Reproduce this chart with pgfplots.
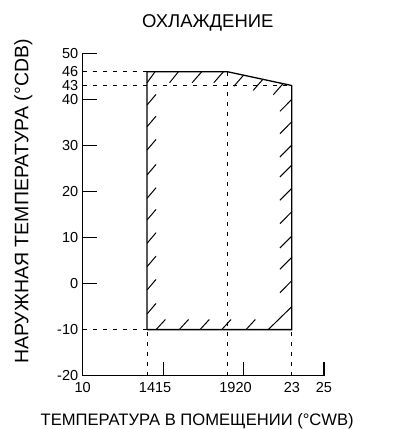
\documentclass[border=0pt]{standalone}
\usepackage{fontspec}
\setmainfont{Liberation Sans}
\usepackage{pgfplots}
\pgfplotsset{compat=1.18}
\begin{document}
\begin{tikzpicture}[font=\fontsize{14.5}{16}\selectfont]
\begin{axis}[
 at={(0,0)}, anchor=south west,
 scale only axis, width=241.3pt, height=322.4pt,
 xmin=10,xmax=25,ymin=-20,ymax=50,
 axis x line*=bottom, axis y line*=left,
 axis line style={line width=1.2pt},
 xtick={10,14,15,19,20,23,25},
 xticklabels={10,14,15,19,20,23,25},
 ytick={-20,-10,0,10,20,30,40,43,46,50},
 yticklabels={-20,-10,0,10,20,30,40,43,46,50},
 major tick length=0pt,
 tick align=inside,
 extra x ticks={15,20,25}, extra x tick labels={},
 extra y ticks={0,10,20,30,40,50}, extra y tick labels={},
 extra x tick style={major tick length=14pt, tick style={line width=1.2pt, black}},
 extra y tick style={major tick length=14pt, tick style={line width=1.2pt, black}},
 tick label style={font=\fontsize{14.5}{16}\selectfont},
 xticklabel style={yshift=-3pt},
 yticklabel style={xshift=-1pt},
 clip=false,
]
\addplot[black, line width=1pt, dash pattern=on 4pt off 6pt, unbounded coords=jump] coordinates {
 (10,46)(14,46) (nan,nan) (10,43)(23,43) (nan,nan) (10,-10)(14,-10) (nan,nan)
 (14,-20)(14,-10) (nan,nan) (19,-20)(19,46) (nan,nan) (23,-20)(23,-10)};
\addplot[black, line width=1pt, unbounded coords=jump] coordinates {
 (14.0,43.6)(14.5,46) (nan,nan) (15.4,43.6)(15.95,46) (nan,nan) (16.8,43.6)(17.4,46) (nan,nan) (18.15,43.6)(18.75,46) (nan,nan)
 (19.4,42.85)(20.0,45.25) (nan,nan) (20.6,41.95)(21.2,44.35) (nan,nan) (21.85,41.0)(22.45,43.4) (nan,nan)
 (22.26,37.4)(23,40.0) (nan,nan) (22.26,32.55)(23,35.15) (nan,nan) (22.26,27.49)(23,30.09) (nan,nan)
 (22.26,23.15)(23,25.75) (nan,nan) (22.26,18.09)(23,20.69) (nan,nan) (22.26,13.01)(23,15.61) (nan,nan)
 (22.26,7.73)(23,10.33) (nan,nan) (22.26,3.11)(23,5.71) (nan,nan) (22.26,-1.97)(23,0.63) (nan,nan)
 (21.53,-10)(23,-5.0) (nan,nan)
 (14,38.78)(14.56,41.08) (nan,nan) (14,34.06)(14.56,36.36) (nan,nan) (14,29.0)(14.56,31.3) (nan,nan)
 (14,23.58)(14.56,25.88) (nan,nan) (14,18.52)(14.56,20.82) (nan,nan) (14,13.81)(14.56,16.11) (nan,nan)
 (14,8.75)(14.56,11.05) (nan,nan) (14,3.67)(14.56,5.97) (nan,nan) (14,-1.39)(14.56,0.91) (nan,nan)
 (14,-6.6)(14.56,-4.3) (nan,nan)
 (14.56,-10)(15.14,-7.8) (nan,nan) (16.0,-10)(16.58,-7.8) (nan,nan) (17.29,-10)(17.87,-7.8) (nan,nan)
 (18.64,-10)(19.22,-7.8) (nan,nan) (20.15,-10)(20.73,-7.8)};
\addplot[black, line width=1.3pt] coordinates {(14,-10)(14,46)(19,46)(23,43)(23,-10)(14,-10)};
\end{axis}
\node[anchor=base, font=\fontsize{18.5}{20}\selectfont] at (125.2pt,347.7pt) {ОХЛАЖДЕНИЕ};
\node[rotate=90, anchor=base, inner sep=0pt, font=\fontsize{19.5}{21}\selectfont] at (-54.4pt,174.2pt) {НАРУЖНАЯ ТЕМПЕРАТУРА (°CDB)};
\node[anchor=base, inner sep=0pt, font=\fontsize{16.6}{19}\selectfont] at (114.5pt,-49.8pt) {ТЕМПЕРАТУРА В ПОМЕЩЕНИИ (°CWB)};
\path (-82.7pt,-53.3pt) rectangle (312.3pt,375.7pt);
\end{tikzpicture}
\end{document}
